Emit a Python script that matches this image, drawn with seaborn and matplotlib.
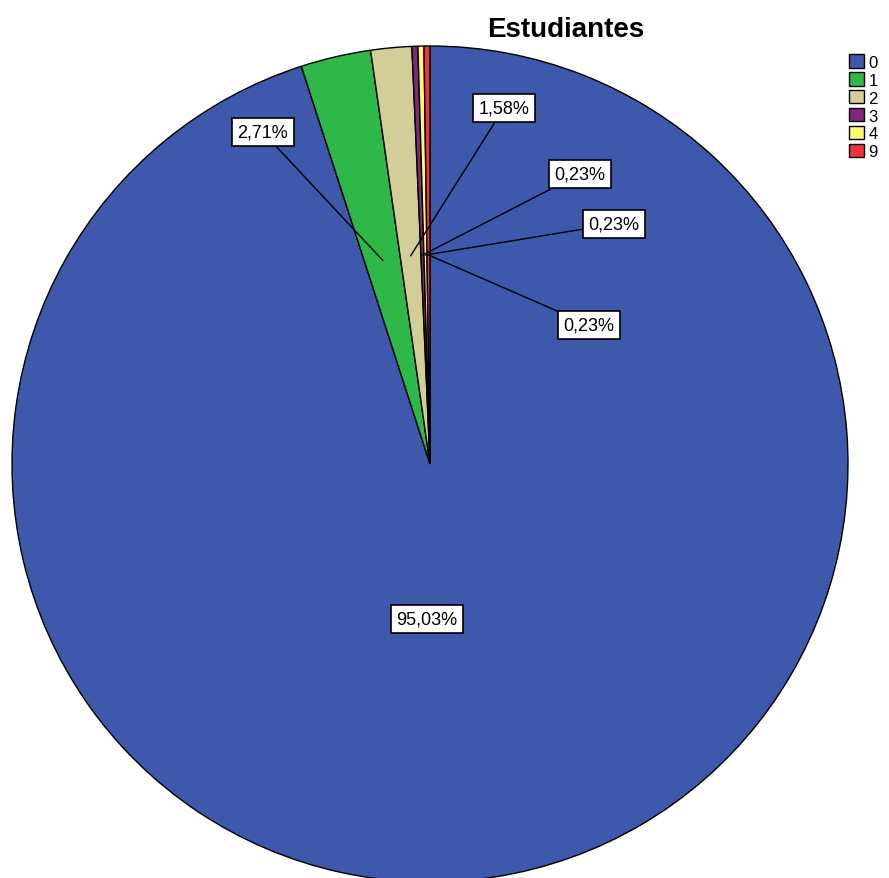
import numpy as np
import matplotlib
matplotlib.use("Agg")
import matplotlib.pyplot as plt
import seaborn as sns

categories = ["0", "1", "2", "3", "4", "9"]
percentages = [95.03, 2.71, 1.58, 0.23, 0.23, 0.23]
pct_labels = ["95,03%", "2,71%", "1,58%", "0,23%", "0,23%", "0,23%"]
colors = ["#3E58AC", "#2EB848", "#D3CE97", "#7C287D", "#FBF873", "#EF3338"]

# label box positions (data coords, radius = 1)
label_pos = [(-0.007, -0.371), (-0.40, 0.794), (0.177, 0.852),
             (0.359, 0.694), (0.44, 0.574), (0.38, 0.333)]

sns.set_style("white")
plt.rcParams["font.family"] = ["Liberation Sans", "DejaVu Sans"]
plt.rcParams["text.color"] = "black"

fig = plt.figure(figsize=(8.89, 8.79), dpi=100)
W, H = 889, 879
cx, cy, r = 430, 465, 418
ax = fig.add_axes([(cx - r) / W, (H - cy - r) / H, 2 * r / W, 2 * r / H])

wedges, _ = ax.pie(percentages, colors=sns.color_palette(colors), startangle=90,
                   counterclock=False, radius=1,
                   wedgeprops=dict(edgecolor="black", linewidth=1))
ax.set_xlim(-1.0, 1.0)
ax.set_ylim(-1.0, 1.0)
ax.set_aspect("equal")
ax.axis("off")

box = dict(boxstyle="square,pad=0.3", facecolor="white", edgecolor="black", linewidth=1.2)
for i, w in enumerate(wedges):
    lx, ly = label_pos[i]
    if i == 0:
        ax.text(lx, ly, pct_labels[i], ha="center", va="center", fontsize=13, bbox=box)
        continue
    mid = np.deg2rad((w.theta1 + w.theta2) / 2)
    px, py = 0.5 * np.cos(mid), 0.5 * np.sin(mid)
    ax.annotate(pct_labels[i], xy=(px, py), xytext=(lx, ly), ha="center", va="center",
                fontsize=13, bbox=box,
                arrowprops=dict(arrowstyle="-", color="black", lw=1, shrinkA=0, shrinkB=0))

fig.text(566 / W, 1 - 30 / H, "Estudiantes", ha="center", va="center",
         fontsize=20, fontweight="bold")

leg = fig.legend(wedges, categories, loc="upper left", bbox_to_anchor=(841 / W, 1 - 47 / H),
                 frameon=False, fontsize=12, handlelength=0.85, handleheight=0.85,
                 handletextpad=0.3, labelspacing=0.15, borderpad=0)

fig.savefig("out.png", dpi=100)
